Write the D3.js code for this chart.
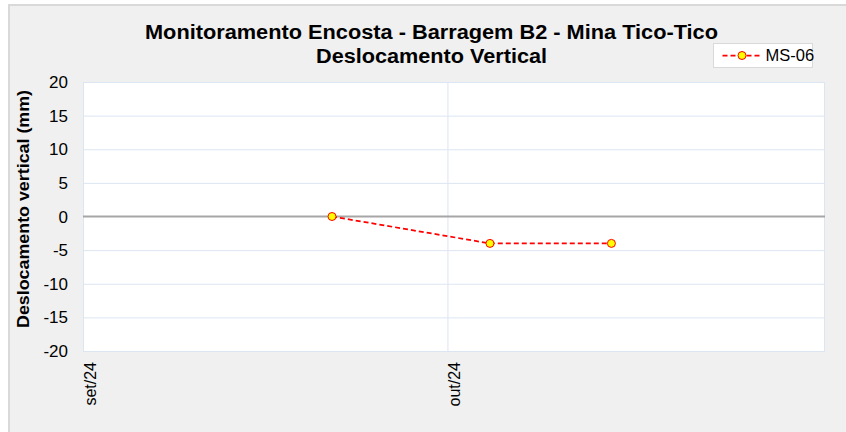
<!DOCTYPE html>
<html>
<head>
<meta charset="utf-8">
<script src="https://cdn.jsdelivr.net/npm/d3@7"></script>
<style>
  body { margin: 0; background: #fff; }
  svg { display: block; font-family: "Liberation Sans", Arial, sans-serif; }
</style>
</head>
<body>
<div id="chart"></div>
<script>
// data
const dates = ['2024-09-21T12:00', '2024-10-04T12:00', '2024-10-14T12:00'];
const ms06 = [0, -4, -4];
const yTicks = [-20, -15, -10, -5, 0, 5, 10, 15, 20];
const xTickDates = ['2024-09-01', '2024-10-01'];
const xTickLabels = ['set/24', 'out/24'];
const seriesName = 'MS-06';

const W = 846, H = 432;
const plot = { left: 83, top: 82, right: 824, bottom: 351 };

const svg = d3.select('#chart').append('svg')
  .attr('width', W)
  .attr('height', H);

// chart area background
svg.append('rect')
  .attr('x', 9).attr('y', 5)
  .attr('width', W).attr('height', H)
  .attr('fill', '#f0f0f0')
  .attr('stroke', '#d9d9d9')
  .attr('stroke-width', 2);

const parse = d3.isoParse;
const x = d3.scaleTime()
  .domain([parse('2024-09-01'), parse('2024-11-01')])
  .range([plot.left, plot.right]);
const y = d3.scaleLinear()
  .domain([-20, 20])
  .range([plot.bottom, plot.top]);

// plot area
svg.append('rect')
  .attr('x', plot.left).attr('y', plot.top)
  .attr('width', plot.right - plot.left)
  .attr('height', plot.bottom - plot.top)
  .attr('fill', '#fff');

// horizontal gridlines
svg.append('g')
  .selectAll('line')
  .data(yTicks.filter(d => d !== 0))
  .join('line')
  .attr('x1', plot.left).attr('x2', plot.right)
  .attr('y1', d => y(d) + 0.5).attr('y2', d => y(d) + 0.5)
  .attr('stroke', '#dce6f2')
  .attr('stroke-width', 1);

// vertical gridlines
svg.append('g')
  .selectAll('line')
  .data(xTickDates.slice(1))
  .join('line')
  .attr('x1', d => x(parse(d)) + 0.5).attr('x2', d => x(parse(d)) + 0.5)
  .attr('y1', plot.top).attr('y2', plot.bottom)
  .attr('stroke', '#dce6f2');

// plot border
svg.append('rect')
  .attr('x', plot.left + 0.5).attr('y', plot.top + 0.5)
  .attr('width', plot.right - plot.left)
  .attr('height', plot.bottom - plot.top)
  .attr('fill', 'none')
  .attr('stroke', '#dce6f2');

// zero line
svg.append('line')
  .attr('x1', plot.left).attr('x2', plot.right + 1)
  .attr('y1', y(0)).attr('y2', y(0))
  .attr('stroke', '#a6a6a6')
  .attr('stroke-width', 2);

// y axis labels
svg.append('g')
  .selectAll('text')
  .data(yTicks)
  .join('text')
  .attr('x', 68)
  .attr('y', d => y(d))
  .attr('dy', '0.36em')
  .attr('text-anchor', 'end')
  .attr('font-size', 17)
  .attr('fill', '#000')
  .text(d => d);

// x axis labels (rotated)
svg.append('g')
  .selectAll('text')
  .data(xTickDates)
  .join('text')
  .attr('transform', d => `translate(${x(parse(d)) + 13},${plot.bottom + 11}) rotate(-90)`)
  .attr('text-anchor', 'end')
  .attr('font-size', 16)
  .attr('fill', '#000')
  .text((d, i) => xTickLabels[i]);

// y axis title
svg.append('text')
  .attr('transform', `translate(29,209) rotate(-90)`)
  .attr('text-anchor', 'middle')
  .attr('font-size', 17)
  .attr('font-weight', 'bold')
  .attr('textLength', 238)
  .attr('lengthAdjust', 'spacingAndGlyphs')
  .text('Deslocamento vertical (mm)');

// chart title
const title = svg.append('text')
  .attr('text-anchor', 'middle')
  .attr('font-size', 19.5)
  .attr('font-weight', 'bold');
title.append('tspan').attr('x', 431.5).attr('y', 39)
  .attr('textLength', 573)
  .attr('lengthAdjust', 'spacingAndGlyphs')
  .text('Monitoramento Encosta - Barragem B2 - Mina Tico-Tico');
title.append('tspan').attr('x', 431.5).attr('y', 63)
  .attr('textLength', 231)
  .attr('lengthAdjust', 'spacingAndGlyphs')
  .text('Deslocamento Vertical');

// series
const pts = dates.map((d, i) => ({ date: parse(d), value: ms06[i] }));

svg.append('path')
  .datum(pts)
  .attr('fill', 'none')
  .attr('stroke', '#ff0000')
  .attr('stroke-width', 1.75)
  .attr('stroke-dasharray', '5,3')
  .attr('d', d3.line().x(d => x(d.date)).y(d => y(d.value)));

svg.append('g')
  .selectAll('circle')
  .data(pts)
  .join('circle')
  .attr('cx', d => x(d.date))
  .attr('cy', d => y(d.value))
  .attr('r', 4)
  .attr('fill', '#ffff00')
  .attr('stroke', '#ff0000')
  .attr('stroke-width', 1);

// legend
const legend = svg.append('g').attr('transform', 'translate(713.5,43.5)');
legend.append('rect')
  .attr('width', 99).attr('height', 24)
  .attr('fill', '#fff')
  .attr('stroke', '#d9d9d9');
legend.append('line')
  .attr('x1', 9).attr('x2', 46)
  .attr('y1', 12).attr('y2', 12)
  .attr('stroke', '#ff0000')
  .attr('stroke-width', 1.75)
  .attr('stroke-dasharray', '5,3');
legend.append('circle')
  .attr('cx', 28.5).attr('cy', 12).attr('r', 4)
  .attr('fill', '#ffff00')
  .attr('stroke', '#ff0000');
legend.append('text')
  .attr('x', 52).attr('y', 12)
  .attr('dy', '0.36em')
  .attr('font-size', 16.5)
  .text(seriesName);
</script>
</body>
</html>
